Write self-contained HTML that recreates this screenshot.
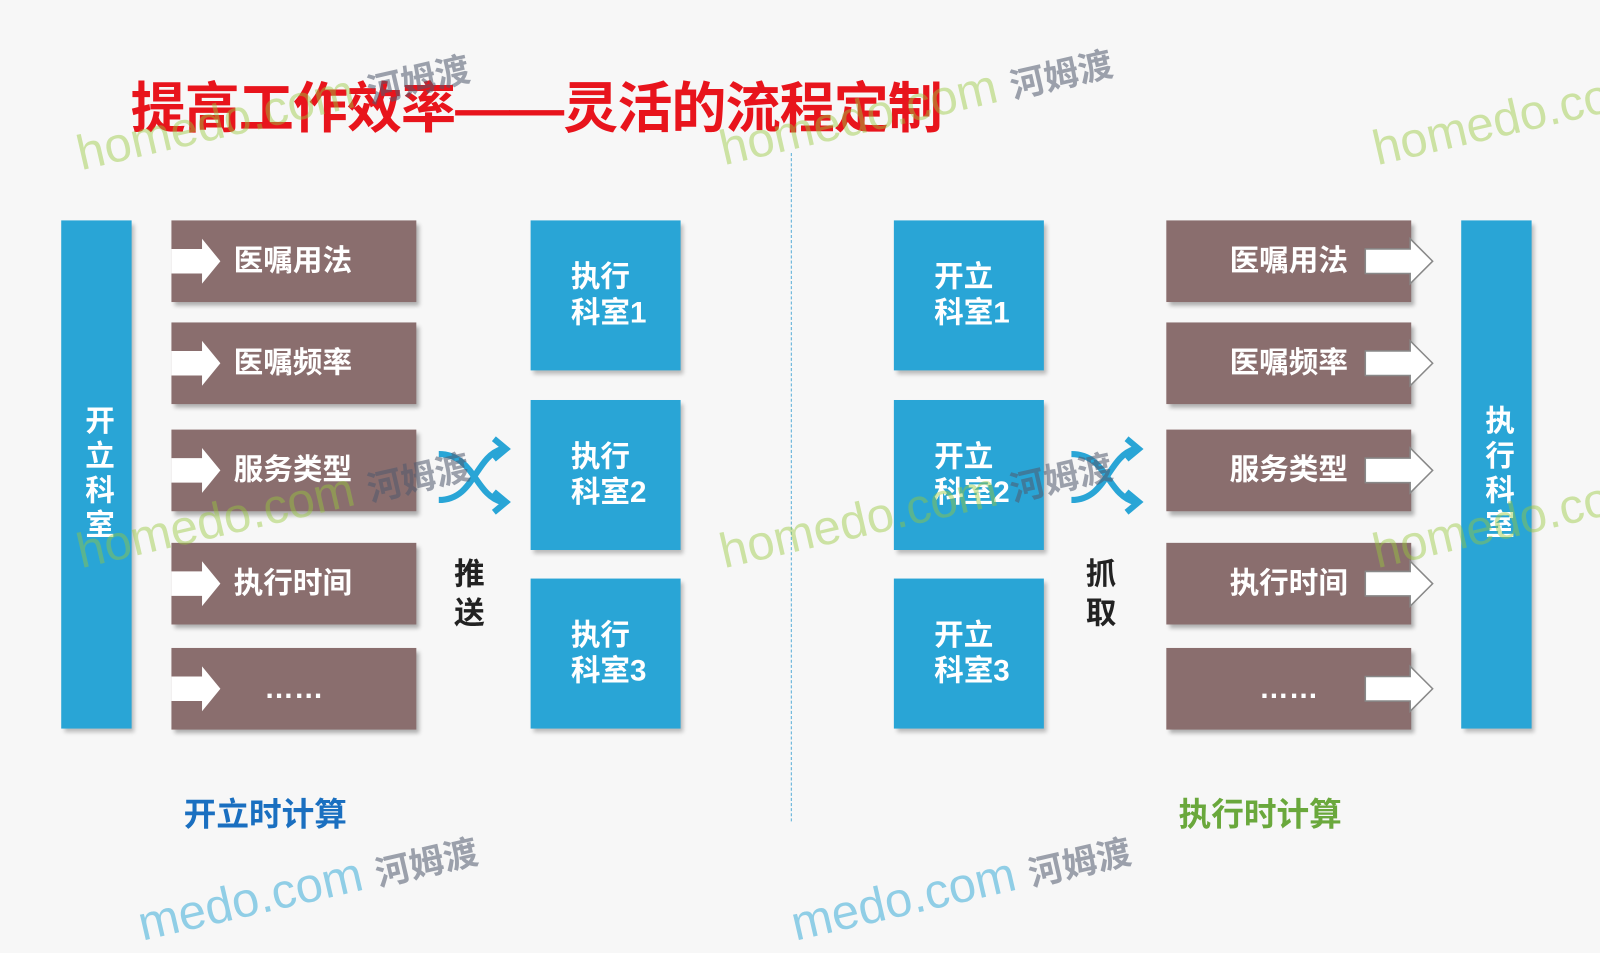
<!DOCTYPE html>
<html><head><meta charset="utf-8"><style>
html,body{margin:0;padding:0;background:#f7f7f7;width:1600px;height:900px;overflow:hidden}
#w{position:absolute;left:0;top:0;width:1568px;height:882px;transform:scale(1.0204);transform-origin:0 0;font-family:"Liberation Sans","Noto Sans CJK SC",sans-serif;font-weight:bold}
.a{position:absolute}
.blue{background:#29a5d6;box-shadow:3px 4px 4px rgba(0,0,0,.25);color:#fff}
.brown{background:#8a6e6e;box-shadow:3px 4px 4px rgba(0,0,0,.3);color:#fff;font-size:29px;line-height:80px}
.bx{font-size:29px;line-height:35px;display:flex;align-items:center;justify-content:center;text-align:left;padding-left:0}
.vt{font-size:29px;line-height:35px;writing-mode:vertical-rl;display:flex;align-items:center;justify-content:center;text-orientation:upright;letter-spacing:5px}
.wm{position:absolute;color:rgba(150,200,60,.45);font-size:48px;font-weight:normal;transform:rotate(-13deg);transform-origin:0 0;white-space:nowrap}
.wm span{color:rgba(80,90,110,.55);font-weight:bold;font-size:34px}
</style></head><body><div id="w">
<div class="a" style="left:128px;top:62px;font-size:54px;color:#e8141c;letter-spacing:-1px;white-space:nowrap">提高工作效率——灵活的流程定制</div>
<div class="a" style="left:775px;top:150px;height:655px;border-left:1px dashed #5aaed8"></div>

<div class="a blue vt" style="left:60px;top:216px;width:69px;height:498px">开立科室</div>
<div id="L"></div>
<div class="a blue bx" style="left:526px;top:216px;width:147px;height:147px;left:520px"><div style="margin-left:6px">执行<br>科室1</div></div>
<div class="a blue bx" style="left:520px;top:392px;width:147px;height:147px"><div style="margin-left:6px">执行<br>科室2</div></div>
<div class="a blue bx" style="left:520px;top:567px;width:147px;height:147px"><div style="margin-left:6px">执行<br>科室3</div></div>
<div class="a" style="left:445px;top:545px;font-size:30px;line-height:38px;color:#222;width:32px">推送</div>

<div class="a blue bx" style="left:876px;top:216px;width:147px;height:147px"><div style="margin-left:6px">开立<br>科室1</div></div>
<div class="a blue bx" style="left:876px;top:392px;width:147px;height:147px"><div style="margin-left:6px">开立<br>科室2</div></div>
<div class="a blue bx" style="left:876px;top:567px;width:147px;height:147px"><div style="margin-left:6px">开立<br>科室3</div></div>
<div class="a" style="left:1064px;top:545px;font-size:30px;line-height:38px;color:#222;width:32px">抓取</div>
<div class="a blue vt" style="left:1432px;top:216px;width:69px;height:498px">执行科室</div>

<svg class="a" style="left:0;top:0" width="1568" height="882">
<g fill="none" stroke="#29a5d6" stroke-width="6">
<path d="M430 445 C465 445,465 485,492 492"/><path d="M430 490 C465 490,465 448,492 440"/>
<path d="M484 430 L496 440 L484 450 M484 482 L496 492 L484 502"/>
<path d="M1050 445 C1085 445,1085 485,1112 492"/><path d="M1050 490 C1085 490,1085 448,1112 440"/>
<path d="M1104 430 L1116 440 L1104 450 M1104 482 L1116 492 L1104 502"/>
</g>
</svg>

<div class="a" style="left:180px;top:773px;font-size:32px;color:#1a6fc0">开立时计算</div>
<div class="a" style="left:1155px;top:773px;font-size:32px;color:#6aa83c">执行时计算</div>

<div class="wm" style="left:70px;top:125px">homedo.com <span>河姆渡</span></div>
<div class="wm" style="left:700px;top:120px">homedo.com <span>河姆渡</span></div>
<div class="wm" style="left:1340px;top:120px">homedo.co</div>
<div class="wm" style="left:70px;top:515px">homedo.com <span>河姆渡</span></div>
<div class="wm" style="left:700px;top:515px">homedo.com <span>河姆渡</span></div>
<div class="wm" style="left:1340px;top:515px">homedo.co</div>
<div class="wm" style="left:130px;top:880px;color:rgba(41,165,214,.5)">medo.com <span>河姆渡</span></div>
<div class="wm" style="left:770px;top:880px;color:rgba(41,165,214,.5)">medo.com <span>河姆渡</span></div>
</div>
<script>
var rows=[[216,"医嘱用法"],[316,"医嘱频率"],[421,"服务类型"],[532,"执行时间"],[635,"……"]];
var h='';
rows.forEach(function(r,i){var y=r[0];var last=i==4;
h+='<div class="a brown" style="left:168px;top:'+y+'px;width:240px;height:80px"><span style="position:absolute;'+(last?'left:0;right:0;text-align:center;padding-left:0':'left:61px')+'">'+r[1]+'</span></div>';
h+='<svg class="a" style="left:168px;top:'+y+'px" width="60" height="80"><polygon points="0,28 30,28 30,18 48,40 30,62 30,52 0,52" fill="#fff"/></svg>';
h+='<div class="a brown" style="left:1143px;top:'+y+'px;width:240px;height:80px"><span style="position:absolute;'+(last?'left:0;right:0;text-align:center':'right:62px')+'">'+r[1]+'</span></div>';
h+='<svg class="a" style="left:1336px;top:'+y+'px" width="75" height="80"><polygon points="2,28 46,28 46,18 68,40 46,62 46,52 2,52" fill="#fff" stroke="#888" stroke-width="1.5"/></svg>';
});
document.getElementById('L').outerHTML=h;
</script>
</body></html>
